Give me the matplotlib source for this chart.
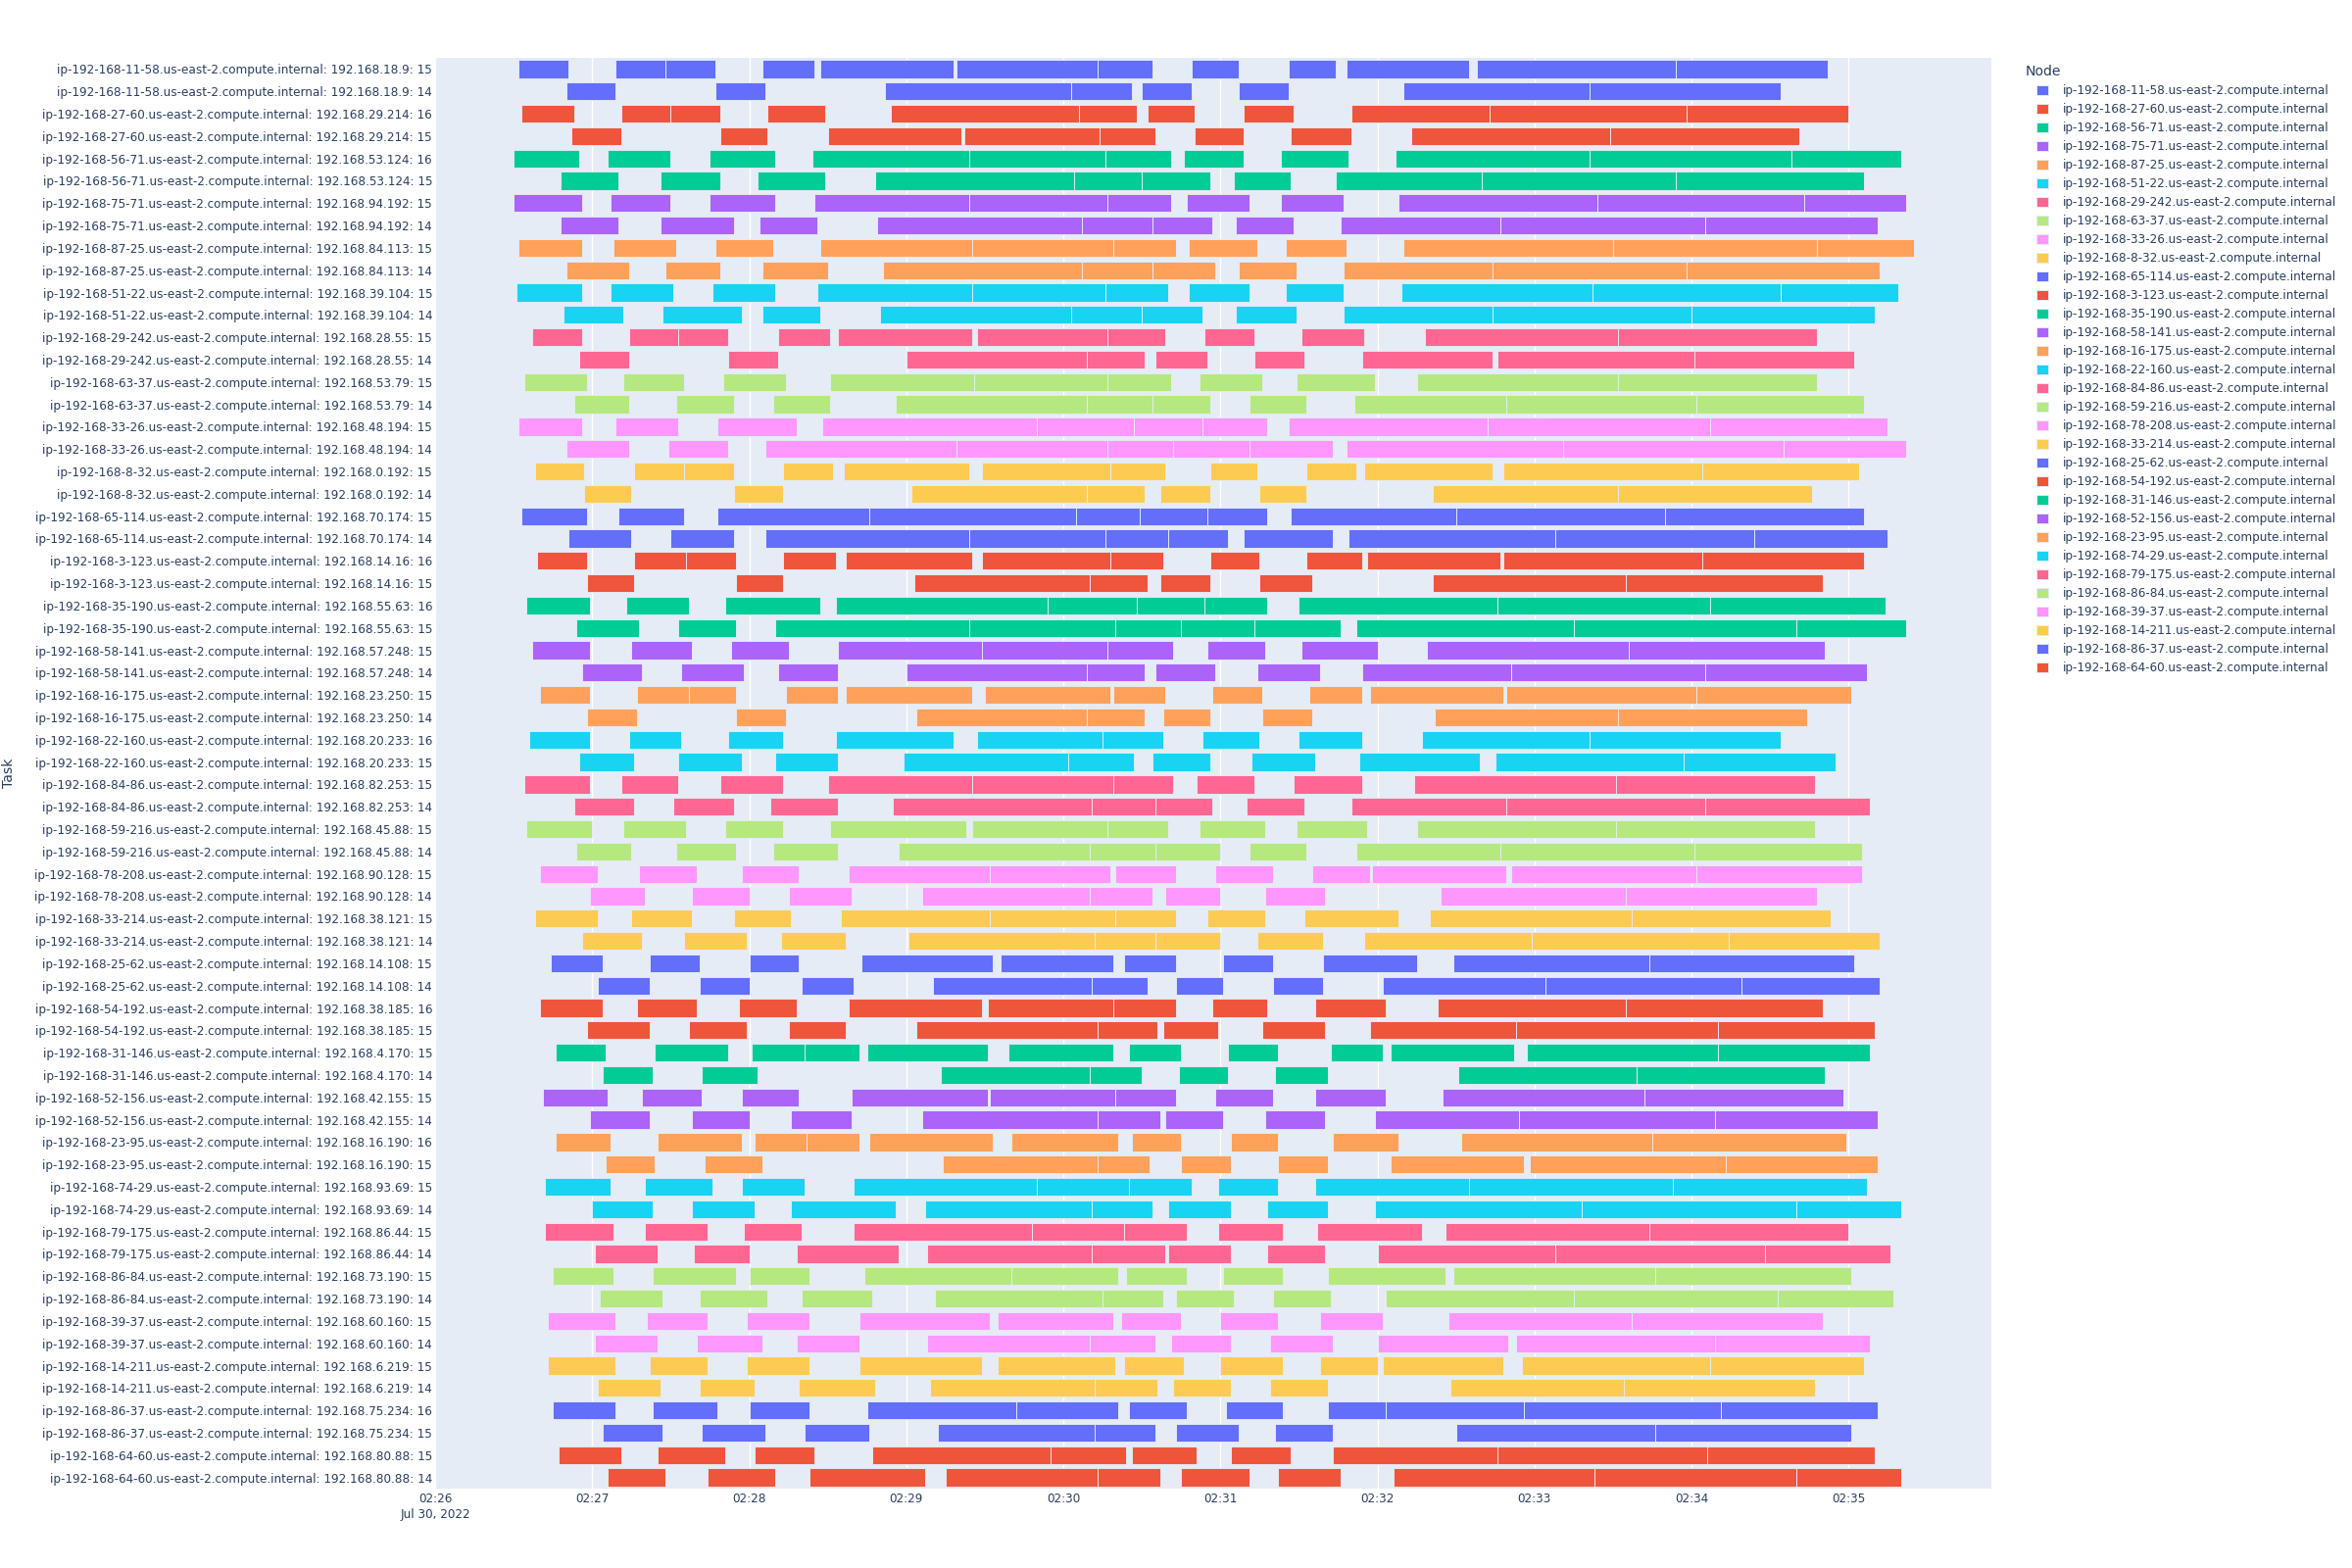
import datetime as dt
import matplotlib
matplotlib.use("Agg")
import matplotlib.pyplot as plt
import matplotlib.dates as mdates
from matplotlib.patches import Patch

# ---------------- data ----------------
START = dt.datetime(2022, 7, 30, 2, 26, 0)
X_END_SECONDS = 594.5

NODE_IDS = ["11-58", "27-60", "56-71", "75-71", "87-25", "51-22", "29-242", "63-37",
            "33-26", "8-32", "65-114", "3-123", "35-190", "58-141", "16-175", "22-160",
            "84-86", "59-216", "78-208", "33-214", "25-62", "54-192", "31-146", "52-156",
            "23-95", "74-29", "79-175", "86-84", "39-37", "14-211", "86-37", "64-60"]
NODE_IPS = ["192.168.18.9", "192.168.29.214", "192.168.53.124", "192.168.94.192",
            "192.168.84.113", "192.168.39.104", "192.168.28.55", "192.168.53.79",
            "192.168.48.194", "192.168.0.192", "192.168.70.174", "192.168.14.16",
            "192.168.55.63", "192.168.57.248", "192.168.23.250", "192.168.20.233",
            "192.168.82.253", "192.168.45.88", "192.168.90.128", "192.168.38.121",
            "192.168.14.108", "192.168.38.185", "192.168.4.170", "192.168.42.155",
            "192.168.16.190", "192.168.93.69", "192.168.86.44", "192.168.73.190",
            "192.168.60.160", "192.168.6.219", "192.168.75.234", "192.168.80.88"]
NODE_THREADS = [(15, 14), (16, 15), (16, 15), (15, 14), (15, 14), (15, 14), (15, 14), (15, 14),
                (15, 14), (15, 14), (15, 14), (16, 15), (16, 15), (15, 14), (15, 14), (16, 15),
                (15, 14), (15, 14), (15, 14), (15, 14), (15, 14), (16, 15), (15, 14), (15, 14),
                (16, 15), (15, 14), (15, 14), (15, 14), (15, 14), (15, 14), (16, 15), (15, 14)]

PALETTE = ["#636EFA", "#EF553B", "#00CC96", "#AB63FA", "#FFA15A",
           "#19D3F3", "#FF6692", "#B6E880", "#FF97FF", "#FECB52"]

# task segments (start, end) in seconds after 02:26:00, one list per task row (top to bottom)
SEGMENTS = [
    [(32,51),(69,88),(88,107),(125,145),(147,198),(199,253),(253,274),(289,307),(326,344),(348,395),(398,474),(474,532)],
    [(50,69),(107,126),(172,243),(243,266),(270,289),(307,326),(370,441),(441,514)],
    [(33,53),(71,90),(90,109),(127,149),(174,246),(246,268),(272,290),(309,328),(350,403),(403,478),(478,540)],
    [(52,71),(109,127),(150,201),(202,254),(254,275),(290,309),(327,350),(373,449),(449,521)],
    [(30,55),(66,90),(105,130),(144,204),(204,256),(256,281),(286,309),(323,349),(367,441),(441,518),(518,560)],
    [(48,70),(86,109),(123,149),(168,244),(244,270),(270,296),(305,327),(344,400),(400,474),(474,546)],
    [(30,56),(67,90),(105,130),(145,204),(204,257),(257,281),(287,311),(323,347),(368,444),(444,523),(523,562)],
    [(48,70),(86,114),(124,146),(169,247),(247,274),(274,297),(306,328),(346,407),(407,485),(485,551)],
    [(32,56),(68,92),(107,129),(147,205),(205,259),(259,283),(288,314),(325,348),(370,450),(450,528),(528,565)],
    [(50,74),(88,109),(125,150),(171,247),(247,274),(274,298),(307,329),(347,404),(404,478),(478,552)],
    [(31,56),(67,91),(106,130),(146,205),(205,256),(256,280),(288,311),(325,347),(369,442),(442,514),(514,559)],
    [(49,72),(87,117),(125,147),(170,243),(243,270),(270,293),(306,329),(347,404),(404,480),(480,550)],
    [(37,56),(74,93),(93,112),(131,151),(154,205),(207,257),(257,279),(294,313),(331,355),(378,452),(452,528)],
    [(55,74),(112,131),(180,249),(249,271),(275,295),(313,332),(354,404),(406,481),(481,542)],
    [(34,58),(72,95),(110,134),(151,206),(206,257),(257,281),(292,316),(329,359),(375,452),(452,528)],
    [(53,74),(92,114),(129,151),(176,249),(249,274),(274,296),(311,333),(351,409),(409,482),(482,546)],
    [(32,56),(69,93),(108,138),(148,230),(230,267),(267,293),(293,318),(326,402),(402,487),(487,555)],
    [(50,74),(89,112),(126,199),(199,257),(257,282),(282,311),(311,343),(348,431),(431,515),(515,562)],
    [(38,57),(76,95),(95,114),(133,152),(156,204),(209,258),(258,279),(296,314),(333,352),(355,404),(408,484),(484,544)],
    [(57,75),(114,133),(182,249),(249,271),(277,296),(315,333),(381,452),(452,526)],
    [(33,58),(70,95),(108,166),(166,245),(245,269),(269,295),(295,318),(327,390),(390,470),(470,546)],
    [(51,75),(90,114),(126,204),(204,256),(256,280),(280,303),(309,343),(349,428),(428,504),(504,555)],
    [(39,58),(76,96),(96,115),(133,153),(157,205),(209,258),(258,278),(296,315),(333,354),(356,407),(408,484),(484,546)],
    [(58,76),(115,133),(183,250),(250,272),(277,296),(315,335),(381,455),(455,530)],
    [(35,59),(73,97),(111,147),(153,234),(234,268),(268,294),(294,318),(330,406),(406,487),(487,554)],
    [(54,78),(93,115),(130,204),(204,260),(260,285),(285,313),(313,346),(352,435),(435,520),(520,562)],
    [(37,59),(75,98),(113,135),(154,209),(209,257),(257,282),(295,317),(331,360),(379,456),(456,531)],
    [(56,79),(94,118),(131,154),(180,249),(249,271),(275,298),(314,338),(354,411),(411,485),(485,547)],
    [(40,59),(77,97),(97,115),(134,154),(157,205),(210,258),(259,279),(297,316),(334,354),(357,408),(409,482),(482,541)],
    [(58,77),(115,134),(184,249),(249,271),(278,296),(316,335),(382,452),(452,524)],
    [(36,59),(74,94),(112,133),(153,198),(207,255),(255,278),(293,315),(330,354),(377,441),(441,514)],
    [(55,76),(93,117),(130,154),(179,242),(242,267),(274,296),(312,336),(353,399),(405,477),(477,535)],
    [(34,59),(71,93),(109,133),(150,205),(205,259),(259,282),(291,313),(328,354),(374,451),(451,527)],
    [(53,76),(91,114),(128,154),(175,251),(251,275),(275,297),(310,332),(350,409),(409,485),(485,548)],
    [(35,60),(72,96),(111,133),(151,203),(205,257),(257,280),(292,317),(329,356),(375,451),(451,527)],
    [(54,75),(92,115),(129,154),(177,250),(250,275),(275,300),(311,333),(352,407),(407,481),(481,545)],
    [(40,62),(78,100),(117,139),(158,212),(212,258),(260,283),(298,320),(335,357),(358,409),(411,482),(482,545)],
    [(59,80),(98,120),(135,159),(186,250),(250,274),(279,300),(317,340),(384,455),(455,528)],
    [(38,62),(75,98),(114,136),(155,212),(212,260),(260,283),(295,317),(332,368),(380,457),(457,533)],
    [(56,79),(95,119),(132,157),(181,252),(252,275),(275,300),(314,339),(355,419),(419,494),(494,552)],
    [(44,64),(82,101),(120,139),(163,213),(216,259),(263,283),(301,320),(339,375),(389,464),(464,542)],
    [(62,82),(101,120),(140,160),(190,251),(251,272),(283,301),(320,339),(362,424),(424,499),(499,552)],
    [(40,64),(77,100),(116,138),(158,209),(211,259),(259,283),(297,318),(336,363),(383,455),(455,530)],
    [(58,82),(97,119),(135,157),(184,253),(253,276),(278,299),(316,340),(357,413),(413,490),(490,550)],
    [(46,65),(84,112),(121,141),(141,162),(165,211),(219,259),(265,285),(303,322),(342,362),(365,412),(417,490),(490,548)],
    [(64,83),(102,123),(193,250),(250,270),(284,303),(321,341),(391,459),(459,531)],
    [(41,66),(79,102),(117,139),(159,211),(212,260),(260,283),(298,320),(336,363),(385,462),(462,538)],
    [(59,82),(98,120),(136,159),(186,253),(253,277),(279,301),(317,340),(359,414),(414,489),(489,551)],
    [(46,67),(85,117),(122,142),(142,162),(166,213),(220,261),(266,285),(304,322),(343,368),(392,465),(465,539)],
    [(65,84),(103,125),(194,253),(253,273),(285,304),(322,341),(365,416),(418,493),(493,551)],
    [(42,67),(80,106),(117,141),(160,230),(230,265),(265,289),(299,322),(336,395),(395,473),(473,547)],
    [(60,83),(98,122),(136,176),(187,251),(251,274),(280,304),(318,341),(359,438),(438,520),(520,560)],
    [(42,68),(80,104),(118,140),(160,228),(228,263),(263,287),(299,324),(337,377),(386,464),(464,540)],
    [(61,85),(99,120),(138,177),(188,251),(251,279),(280,304),(318,340),(360,428),(428,508),(508,556)],
    [(45,68),(83,115),(120,143),(164,220),(220,261),(264,287),(301,324),(341,386),(389,466),(466,541)],
    [(63,87),(101,127),(140,167),(191,255),(255,278),(283,305),(320,342),(363,435),(435,513),(513,557)],
    [(43,69),(81,104),(119,143),(162,212),(215,259),(262,285),(300,322),(338,362),(387,457),(457,530)],
    [(61,85),(100,125),(138,162),(188,250),(250,275),(281,304),(319,343),(360,410),(413,489),(489,548)],
    [(43,69),(82,104),(119,143),(162,209),(215,260),(263,286),(300,324),(338,360),(362,408),(415,487),(487,546)],
    [(62,86),(101,122),(139,168),(189,252),(252,276),(282,304),(319,341),(388,454),(454,527)],
    [(45,69),(83,108),(120,143),(165,222),(222,261),(265,287),(302,324),(341,363),(363,416),(416,491),(491,551)],
    [(64,87),(102,126),(141,166),(192,252),(252,275),(283,307),(321,343),(390,466),(466,541)],
    [(47,71),(85,111),(122,145),(167,235),(235,264),(266,291),(304,327),(343,406),(406,486),(486,550)],
    [(66,88),(104,130),(143,187),(195,253),(253,277),(285,311),(322,346),(366,443),(443,520),(520,560)],
]

# ---------------- derived ----------------
node_names = [f"ip-192-168-{n}.us-east-2.compute.internal" for n in NODE_IDS]
node_colors = [PALETTE[i % len(PALETTE)] for i in range(len(node_names))]
task_labels, task_node = [], []
for i, (name, ip, thr) in enumerate(zip(node_names, NODE_IPS, NODE_THREADS)):
    for t in thr:
        task_labels.append(f"{name}: {ip}: {t}")
        task_node.append(i)

TEXT = "#2a3f5f"
BG = "#E5ECF6"
PX = 72 / 100.0  # points per pixel at dpi=100
FS = 12 * PX

fig = plt.figure(figsize=(24, 16), dpi=100)
fig.patch.set_facecolor("white")
ax = fig.add_axes([444 / 2400, 1 - 1519 / 1600, 1588 / 2400, 1460 / 1600])
ax.set_facecolor(BG)
for s in ax.spines.values():
    s.set_visible(False)

day = 86400.0
x0 = mdates.date2num(START)
for row, segs in enumerate(SEGMENTS):
    col = node_colors[task_node[row]]
    lefts = [x0 + a / day for a, b in segs]
    widths = [(b - a) / day for a, b in segs]
    ax.barh([row] * len(segs), widths, left=lefts, height=0.8, color=col,
            edgecolor=BG, linewidth=0.9 * PX, zorder=3)

ax.set_ylim(len(SEGMENTS) - 0.5, -0.5)
ax.set_yticks(range(len(task_labels)))
ax.set_yticklabels(task_labels)
ax.set_xlim(x0, x0 + X_END_SECONDS / day)
ax.xaxis.set_major_locator(mdates.MinuteLocator(interval=1))
ax.xaxis.set_major_formatter(mdates.DateFormatter("%H:%M"))
ax.grid(axis="x", color="white", linewidth=1.4 * PX, zorder=0)
ax.grid(axis="y", visible=False)
ax.set_axisbelow(True)
ax.tick_params(axis="y", length=0, pad=3 * PX, labelsize=FS, labelcolor=TEXT)
ax.tick_params(axis="x", length=0, pad=4 * PX, labelsize=FS, labelcolor=TEXT)

ax.annotate("Jul 30, 2022", xy=(x0, 0), xycoords=("data", "axes fraction"),
            xytext=(0, -26), textcoords="offset pixels", ha="center", va="center",
            fontsize=FS, color=TEXT)

fig.text(9 / 2400, 1 - 789 / 1600, "Task", rotation=90, ha="center", va="center",
         fontsize=14 * PX, color=TEXT)

fig.text(2067 / 2400, 1 - 73 / 1600, "Node", ha="left", va="center",
         fontsize=14 * PX, color=TEXT)
handles = [Patch(facecolor=c, edgecolor=BG, linewidth=0.7, label=n)
           for n, c in zip(node_names, node_colors)]
fig.legend(handles=handles, loc="upper left", bbox_to_anchor=(2078 / 2400, 1 - 86 / 1600),
           frameon=False, fontsize=FS, labelcolor=TEXT, handlelength=1.0, handleheight=1.0,
           handletextpad=1.25, labelspacing=0.5, borderpad=0, borderaxespad=0)

fig.savefig("out.png", dpi=100, facecolor="white")
